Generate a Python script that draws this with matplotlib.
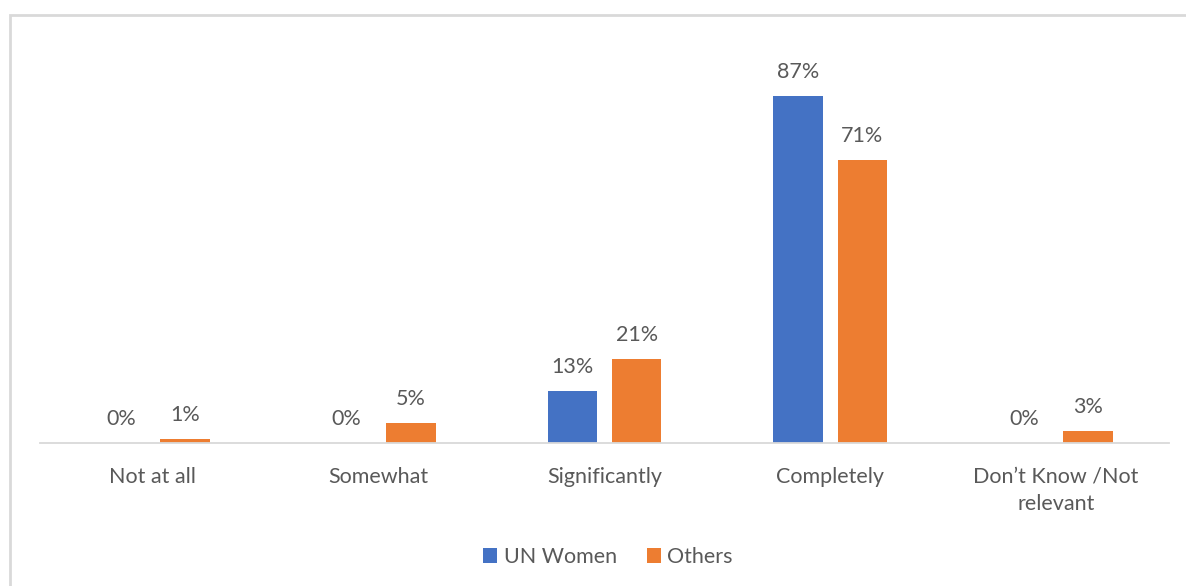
import matplotlib.pyplot as plt
import numpy as np
from matplotlib.patches import Rectangle

categories = ["Not at all", "Somewhat", "Significantly", "Completely", "Don\u2019t Know /Not\nrelevant"]
un_women = [0, 0, 13, 87, 0]
others = [1, 5, 21, 71, 3]

plt.rcParams["font.family"] = ["Lato", "DejaVu Sans"]
text_color = "#595959"

fig = plt.figure(figsize=(11.86, 5.86), dpi=100)

# light grey frame round the chart, cut off at right and bottom like the source
fig.patches.append(Rectangle((10 / 1186, -0.1), 1.2, (586 - 15) / 586 + 0.1,
                             transform=fig.transFigure, fill=False,
                             edgecolor="#D9D9D9", linewidth=2))

ax = fig.add_axes([40 / 1186, (586 - 443) / 586, (1169 - 40) / 1186, (443 - 40) / 586])

x = np.arange(len(categories))
w = 0.22
off = 0.142
b1 = ax.bar(x - off, un_women, w, color="#4472C4", label="UN Women")
b2 = ax.bar(x + off, others, w, color="#ED7D31", label="Others")

for bars, vals in ((b1, un_women), (b2, others)):
    for rect, v in zip(bars, vals):
        ax.annotate(f"{v}%", (rect.get_x() + rect.get_width() / 2, v),
                    xytext=(0, 10), textcoords="offset points",
                    ha="center", va="bottom", fontsize=15.5, color=text_color)

ax.set_xlim(-0.5, 4.5)
ax.set_ylim(0, (443 - 40) / 3.99)
ax.set_yticks([])
ax.set_xticks(x)
ax.set_xticklabels(categories, fontsize=15.5, color=text_color, linespacing=1.45)
ax.tick_params(axis="x", length=0, pad=17)
for s in ("top", "left", "right"):
    ax.spines[s].set_visible(False)
ax.spines["bottom"].set_color("#D9D9D9")
ax.spines["bottom"].set_linewidth(1.3)

leg = fig.legend(handles=[b1, b2], loc="center", bbox_to_anchor=(608 / 1186, 1 - 557 / 586),
                 ncol=2, frameon=False, fontsize=15.5, handlelength=0.65, handleheight=0.65,
                 handletextpad=0.3, columnspacing=1.4)
for t in leg.get_texts():
    t.set_color(text_color)

fig.savefig("out.png", dpi=100)
